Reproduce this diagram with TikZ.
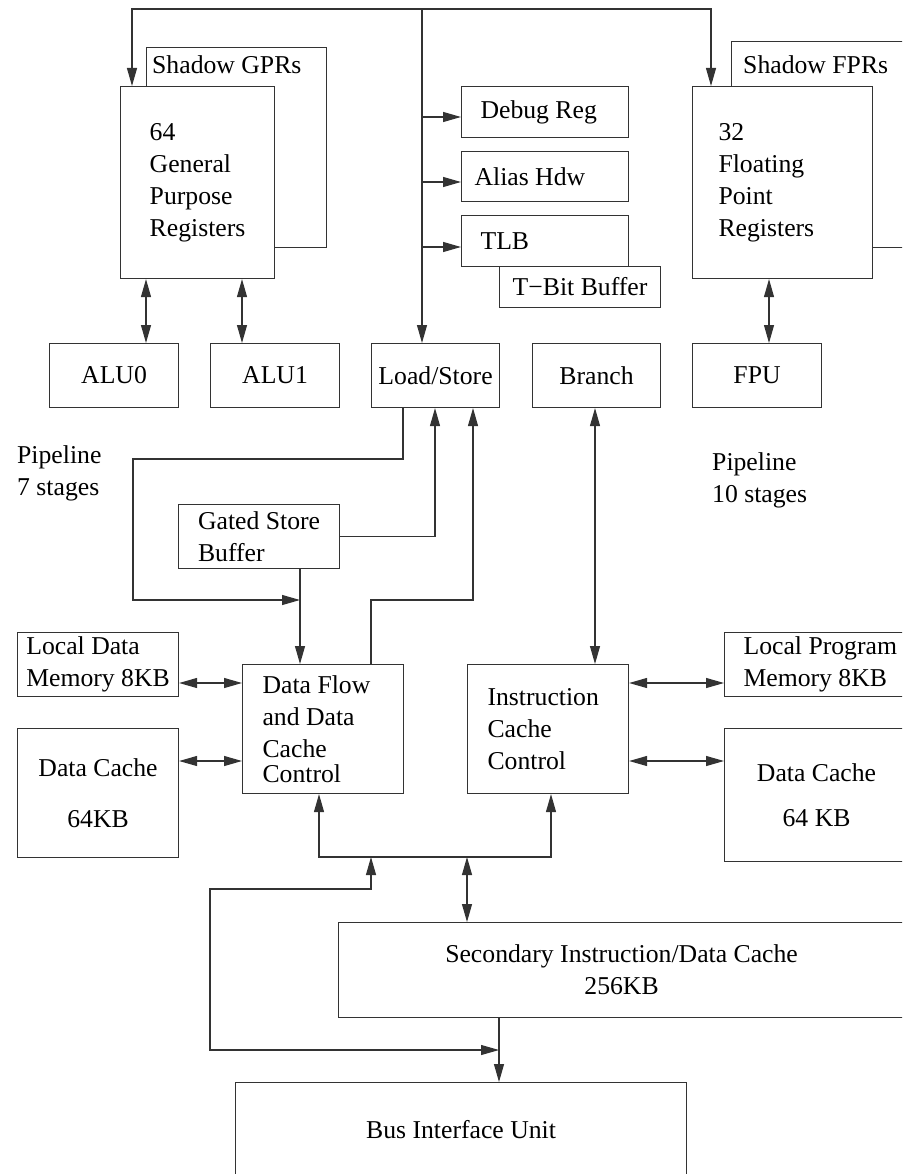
\documentclass[tikz,border=0pt]{standalone}
\usepackage{fontspec}
\setmainfont{Liberation Serif}
\usetikzlibrary{arrows.meta,positioning}

\begin{document}
\begin{tikzpicture}[x=1pt, y=-1pt,
  every node/.style={font=\fontsize{25.7}{32}\selectfont},
  blk/.style={draw=black!80, line width=1.1pt, fill=white, anchor=north west, inner sep=0pt},
  lft/.style={blk, align=flush left},
  ctr/.style={blk, align=center},
  lbl/.style={anchor=west, inner sep=0pt, align=flush left},
  wire/.style={draw=black!80, line width=1.1pt},
  >={Triangle[length=18pt,width=10pt]}]
\useasboundingbox (0,0) rectangle (902,1174);
\clip (0,0) rectangle (902,1174);

% register files
\node[blk, minimum width=180pt, minimum height=200pt] (shgpr) at (146,47) {};
\node[lbl] (shgprtxt) at (152,65) {Shadow GPRs};
\node[lft, minimum width=154pt, minimum height=192pt] (gpr) at (120,86) {64\\General\\Purpose\\Registers};
\node[blk, minimum width=190pt, minimum height=206pt] (shfpr) at (731,41) {};
\node[lbl] (shfprtxt) at (743,65) {Shadow FPRs};
\node[lft, text width=128pt, minimum width=180pt, minimum height=192pt] (fpr) at (692,86) {32\\Floating\\Point\\Registers};

% side units
\node[lft, text width=129pt, minimum width=167pt, minimum height=51pt] (dbg) at (461,86) {Debug Reg};
\node[lft, text width=141pt, minimum width=167pt, minimum height=50pt] (alias) at (461,151) {Alias Hdw};
\node[lft, text width=129pt, minimum width=167pt, minimum height=51pt] (tlb) at (461,215) {TLB};
\node[lft, minimum width=161pt, minimum height=41pt] (tbit) at (499,266) {T−Bit Buffer};

% execution units
\node[ctr, minimum width=129pt, minimum height=64pt] (alu0) at (49,343) {ALU0};
\node[ctr, minimum width=129pt, minimum height=64pt] (alu1) at (210,343) {ALU1};
\node[ctr, minimum width=128pt, minimum height=64pt] (ls) at (371,343) {Load/Store};
\node[ctr, minimum width=128pt, minimum height=64pt] (branch) at (532,343) {Branch};
\node[ctr, minimum width=129pt, minimum height=64pt] (fpu) at (692,343) {FPU};

\node[lbl] (pipe7) at (17,473) {Pipeline\\7 stages};
\node[lbl] (pipe10) at (712,480) {Pipeline\\10 stages};

% memories
\node[lft, minimum width=161pt, minimum height=64pt] (gsb) at (178,504) {Gated Store\\Buffer};
\node[lft, minimum width=161pt, minimum height=64pt] (ldm) at (17,632) {Local Data\\Memory 8KB};
\node[ctr, minimum width=161pt, minimum height=129pt] (dcl) at (17,728) {Data Cache\\[19pt]64KB};
\node[lft, text width=121pt, minimum width=161pt, minimum height=129pt] (df) at (242,664) {Data Flow\\and Data\\Cache\\[-7pt]Control};
\node[lft, text width=121pt, minimum width=161pt, minimum height=129pt] (icc) at (467,664) {Instruction\\Cache\\Control};
\node[lft, text width=158pt, minimum width=196pt, minimum height=64pt] (lpm) at (724,632) {Local Program\\Memory 8KB};
\node[ctr, minimum width=184pt, minimum height=133pt] (dcr) at (724,728) {Data Cache\\[13pt]64 KB};
\node[ctr, minimum width=566pt, minimum height=95pt] (sec) at (338,922) {Secondary Instruction/Data Cache\\256KB};
\node[ctr, minimum width=451pt, minimum height=94pt] (biu) at (235,1082) {Bus Interface Unit};

% connections
\coordinate (top) at (422,9);
\draw[wire,->] (top) -| (132,0 |- gpr.north);
\draw[wire,->] (top) -| (711,0 |- fpr.north);
\draw[wire,->] (top) -- (422,0 |- ls.north);
\foreach \y/\n in {117/dbg,182/alias,247/tlb} \draw[wire,->] (422,\y) -- (\n.west |- 0,\y);
\foreach \x/\n in {146/alu0,242/alu1} \draw[wire,<->] (\x,0 |- gpr.south) -- (\x,0 |- \n.north);
\draw[wire,<->] (769,0 |- fpr.south) -- (769,0 |- fpu.north);

\draw[wire,->] (403,0 |- ls.south) |- (133,459) |- (300,600);
\draw[wire,->] (300,0 |- gsb.south) -- (300,0 |- df.north);
\draw[wire,->] (gsb.east) -| (435,0 |- ls.south);
\draw[wire,->] (371,0 |- df.north) |- (473,600) -- (473,0 |- ls.south);
\draw[wire,<->] (595,0 |- branch.south) -- (595,0 |- icc.north);

\foreach \a/\b/\y in {ldm/df/683,dcl/df/761,icc/lpm/683,icc/dcr/761}
  \draw[wire,<->] (\a.east |- 0,\y) -- (\b.west |- 0,\y);

\coordinate (bus) at (371,857);
\draw[wire,<->] (319,0 |- df.south) |- (551,857) -- (551,0 |- icc.south);
\draw[wire,<->] (bus) |- (210,889) |- (499,1050);
\draw[wire,<->] (467,857) -- (467,0 |- sec.north);
\draw[wire,->] (499,0 |- sec.south) -- (499,0 |- biu.north);
\end{tikzpicture}
\end{document}
